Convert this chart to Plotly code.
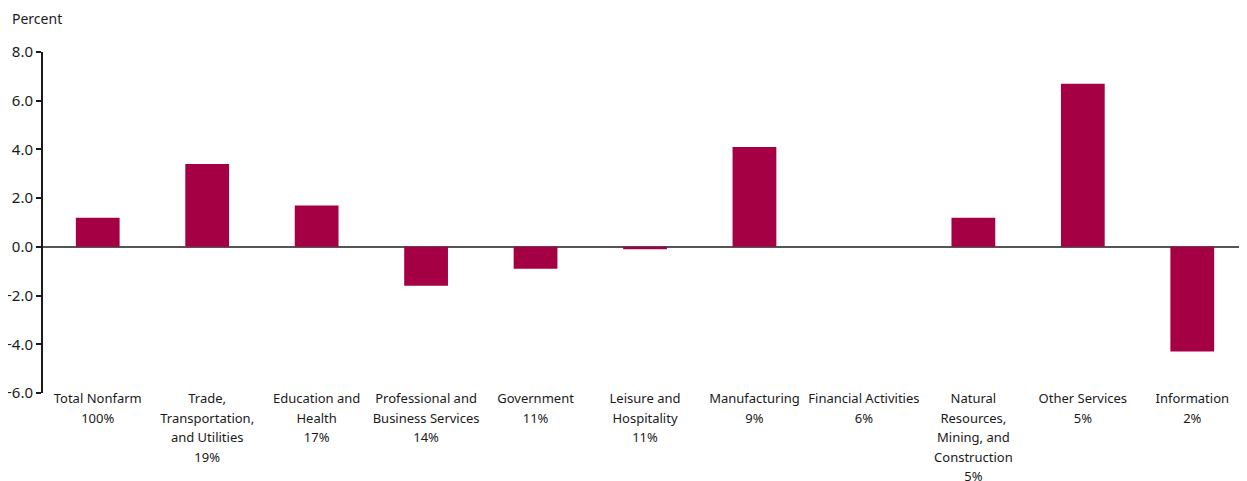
import plotly.graph_objects as go

categories = [
    "Total Nonfarm<br>100%",
    "Trade,<br>Transportation,<br>and Utilities<br>19%",
    "Education and<br>Health<br>17%",
    "Professional and<br>Business Services<br>14%",
    "Government<br>11%",
    "Leisure and<br>Hospitality<br>11%",
    "Manufacturing<br>9%",
    "Financial Activities<br>6%",
    "Natural<br>Resources,<br>Mining, and<br>Construction<br>5%",
    "Other Services<br>5%",
    "Information<br>2%",
]
values = [1.2, 3.4, 1.7, -1.6, -0.9, -0.1, 4.1, 0.0, 1.2, 6.7, -4.3]
y_tick_vals = [-6, -4, -2, 0, 2, 4, 6, 8]
y_tick_text = ["\u22126.0", "\u22124.0", "\u22122.0", "0.0", "2.0", "4.0", "6.0", "8.0"]

FONT = "Noto Sans"
TXT = "#1a1a1a"

# wider line spacing: base font 15 (line pitch 19.5px), glyphs drawn at 13px
ticktext = [
    "<br>".join('<span style="font-size:13px">%s</span>' % line for line in c.split("<br>"))
    for c in categories
]

fig = go.Figure(
    go.Bar(
        x=list(range(len(categories))),
        y=values,
        marker=dict(color="#A50044", line=dict(width=0)),
        width=0.4,
    )
)

W, H = 1239, 473
L, T, B = 35, 44, 88
fig.update_layout(
    width=W,
    height=H,
    margin=dict(l=L, r=0, t=T, b=B, pad=0),
    paper_bgcolor="white",
    plot_bgcolor="white",
    showlegend=False,
    font=dict(family=FONT, size=13, color=TXT),
    annotations=[
        dict(
            text="Percent",
            xref="paper", yref="paper",
            x=(2 - L) / (W - L), y=1 + (T - 10) / (H - T - B),
            xanchor="left", yanchor="middle",
            showarrow=False,
            font=dict(family=FONT, size=14, color=TXT),
        )
    ],
)

fig.update_xaxes(
    tickmode="array",
    tickvals=list(range(len(categories))),
    ticktext=ticktext,
    range=[-0.5, len(categories) - 0.5],
    showgrid=False,
    showline=False,
    ticks="",
    tickangle=0,
    automargin=False,
    ticklabelstandoff=-6,
    tickfont=dict(family=FONT, size=15, color=TXT),
    fixedrange=True,
)

fig.update_yaxes(
    range=[-6, 8],
    tickmode="array",
    tickvals=y_tick_vals,
    ticktext=y_tick_text,
    showgrid=False,
    showline=True,
    automargin=False,
    linecolor=TXT,
    linewidth=2,
    ticks="outside",
    ticklen=5,
    tickwidth=2,
    tickcolor=TXT,
    zeroline=True,
    zerolinecolor="#555555",
    zerolinewidth=2,
    tickfont=dict(family=FONT, size=15, color=TXT),
    fixedrange=True,
)

fig.write_html("out.html")
